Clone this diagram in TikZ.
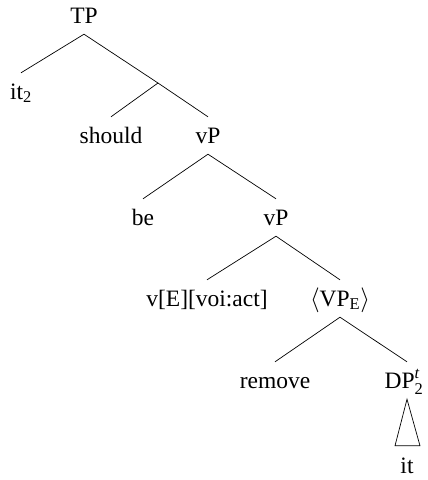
\documentclass[tikz,border=0pt]{standalone}
\usepackage{amsmath}
\usepackage{fontspec}
\setmainfont{Liberation Serif}
\usepackage{tikz}
\usetikzlibrary{calc}

\begin{document}
\begin{tikzpicture}[x=1pt, y=-1pt,
    cat/.style={anchor=base, inner xsep=1pt, inner ysep=11pt,
        text height=15pt, text depth=0pt,
        font=\fontsize{23.5}{27}\selectfont},
    branch/.style={line width=0.7pt}]
\useasboundingbox (0,0) rectangle (428,480);

% categories and words, placed at their baselines
\node[cat] (tp) at (84,23) {TP};
\node[cat] (it2) at (21,99) {it$_{\text{2}}$};
\coordinate (tbar) at (158,83);
\node[cat] (should) at (111,143) {should};
\node[cat] (vp1) at (208,143) {vP};
\node[cat] (be) at (143,225) {be};
\node[cat] (vp2) at (276,225) {vP};
\node[cat] (vhead) at (207,306) {v[E][voi:act]};
\node[cat] (vpe) at (340,306) {$\langle$VP$_{\text{E}}\rangle$};
\node[cat] (remove) at (275,388) {remove};
\node[cat] (dp) at (404,388) {DP$^{\textit{t}}_{\text{2}}$};
\node[cat] (it) at (407,473) {it};

% branches
\draw[branch] (tp.south) -- (it2.north);
\draw[branch] (tp.south) -- (tbar) -- (vp1.north);
\draw[branch] (tbar) -- (should.north);
\draw[branch] (vp1.south) -- (be.north);
\draw[branch] (vp1.south) -- (vp2.north);
\draw[branch] (vp2.south) -- (vhead.north);
\draw[branch] (vp2.south) -- (vpe.north);
\draw[branch] (vpe.south) -- (remove.north);
\draw[branch] (vpe.south) -- ([xshift=3pt]dp.north);
\draw[branch] ([xshift=3pt]dp.south) -- ([xshift=-12pt,yshift=1pt]it.north)
    -- ([xshift=13pt,yshift=1pt]it.north) -- cycle;
\end{tikzpicture}
\end{document}
